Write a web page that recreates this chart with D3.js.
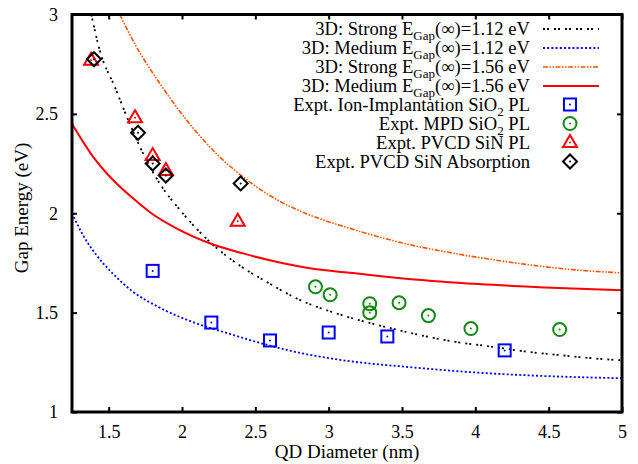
<!DOCTYPE html>
<html>
<head>
<meta charset="utf-8">
<script src="https://cdn.jsdelivr.net/npm/d3@7"></script>
<style>
  body { margin: 0; background: #fff; }
  text { font-family: "Liberation Serif", "Times New Roman", serif; }
</style>
</head>
<body>
<div id="chart"></div>
<script>
// model curves
const strong112D = [1.382, 1.439, 1.541, 1.643, 1.746, 1.848, 1.996, 2.2, 2.405, 2.575, 2.78, 3.11, 3.427, 3.654, 3.881, 4.108, 4.336, 4.563, 4.95, 5.0];
const strong112E = [3.0, 2.82, 2.637, 2.452, 2.284, 2.15, 2.008, 1.849, 1.731, 1.656, 1.572, 1.483, 1.421, 1.382, 1.351, 1.329, 1.305, 1.287, 1.262, 1.26];

const medium112D = [1.25, 1.325, 1.416, 1.53, 1.666, 1.848, 2.075, 2.303, 2.53, 2.757, 3.11, 3.564, 4.018, 4.472, 5.0];
const medium112E = [2.0, 1.89, 1.79, 1.695, 1.605, 1.525, 1.452, 1.398, 1.348, 1.305, 1.259, 1.225, 1.198, 1.181, 1.17];

const strong156D = [1.575, 1.689, 1.848, 2.03, 2.234, 2.439, 2.643, 2.87, 3.11, 3.337, 3.564, 3.79, 4.018, 4.245, 4.472, 4.7, 5.0];
const strong156E = [3.0, 2.838, 2.654, 2.47, 2.3, 2.17, 2.07, 1.991, 1.932, 1.882, 1.84, 1.807, 1.778, 1.753, 1.731, 1.714, 1.70];

const medium156D = [1.25, 1.393, 1.53, 1.666, 1.791, 1.962, 2.189, 2.416, 2.643, 2.87, 3.143, 3.564, 4.018, 4.472, 5.0];
const medium156E = [2.45, 2.285, 2.167, 2.075, 2.0, 1.924, 1.849, 1.798, 1.756, 1.723, 1.701, 1.668, 1.644, 1.627, 1.613];

// experiments
const ionD = [1.8, 2.2, 2.6, 3.0, 3.4, 4.2];
const ionE = [1.71, 1.45, 1.36, 1.40, 1.38, 1.31];

const mpdD = [2.91, 3.01, 3.28, 3.28, 3.48, 3.68, 3.97, 4.575];
const mpdE = [1.63, 1.59, 1.545, 1.50, 1.55, 1.485, 1.42, 1.415];

const sinPlD = [1.38, 1.68, 1.8, 1.89, 2.38];
const sinPlE = [2.77, 2.48, 2.29, 2.215, 1.96];

const sinAbsD = [1.40, 1.70, 1.80, 1.89, 2.40];
const sinAbsE = [2.775, 2.405, 2.25, 2.19, 2.15];

const xTicks = [1.5, 2, 2.5, 3, 3.5, 4, 4.5, 5];
const yTicks = [1, 1.5, 2, 2.5, 3];

const width = 638, height = 464;
const margin = { left: 72, right: 16, top: 14.5, bottom: 52 };

const svg = d3.select("#chart").append("svg")
    .attr("width", width)
    .attr("height", height);

const x = d3.scaleLinear().domain([1.25, 5]).range([margin.left, width - margin.right]);
const y = d3.scaleLinear().domain([1, 3]).range([height - margin.bottom, margin.top]);

svg.append("clipPath").attr("id", "clip")
  .append("rect")
    .attr("x", x(1.25)).attr("y", y(3))
    .attr("width", x(5) - x(1.25)).attr("height", y(1) - y(3));

const zip = (ds, es) => ds.map((d, i) => [d, es[i]]);

const line = d3.line()
    .x(d => x(d[0]))
    .y(d => y(d[1]))
    .curve(d3.curveMonotoneX);

const curves = [
  { label: "1.12", kind: "Strong", pts: zip(strong112D, strong112E), color: "#000", dash: "2,2,2,5", w: 1.8 },
  { label: "1.12", kind: "Medium", pts: zip(medium112D, medium112E), color: "#0000ff", dash: "2,2.2", w: 1.8 },
  { label: "1.56", kind: "Strong", pts: zip(strong156D, strong156E), color: "#ff5500", dash: "5,1.5,1.5,1.5,1.5,1.5", w: 1.6 },
  { label: "1.56", kind: "Medium", pts: zip(medium156D, medium156E), color: "#ff0000", dash: null, w: 2 }
];

const plot = svg.append("g").attr("clip-path", "url(#clip)");

plot.selectAll(".curve")
  .data(curves)
  .enter().append("path")
    .attr("class", "curve")
    .attr("d", d => line(d.pts))
    .attr("fill", "none")
    .attr("stroke", d => d.color)
    .attr("stroke-width", d => d.w)
    .attr("stroke-dasharray", d => d.dash);

// point markers
function marker(g, type, color) {
  if (type === "square") {
    g.append("rect").attr("x", -6).attr("y", -6).attr("width", 12).attr("height", 12);
  } else if (type === "circle") {
    g.append("circle").attr("r", 6.5);
  } else if (type === "triangle") {
    g.append("path").attr("d", "M0,-7.5L7,4.5L-7,4.5Z");
  } else {
    g.append("path").attr("d", "M0,-7L7,0L0,7L-7,0Z");
  }
  g.selectAll("rect,circle,path")
    .attr("fill", "none")
    .attr("stroke", color)
    .attr("stroke-width", 2);
  g.append("circle").attr("r", 1).attr("fill", color);
}

const sets = [
  { pts: zip(ionD, ionE), type: "square", color: "#0000ff", name: ["Expt. Ion-Implantation SiO", "2", " PL"] },
  { pts: zip(mpdD, mpdE), type: "circle", color: "#118811", name: ["Expt. MPD SiO", "2", " PL"] },
  { pts: zip(sinPlD, sinPlE), type: "triangle", color: "#ff0000", name: ["Expt. PVCD SiN PL"] },
  { pts: zip(sinAbsD, sinAbsE), type: "diamond", color: "#000", name: ["Expt. PVCD SiN Absorption"] }
];

sets.forEach(s => {
  s.pts.forEach(p => {
    const g = svg.append("g").attr("transform", `translate(${x(p[0])},${y(p[1])})`);
    marker(g, s.type, s.color);
  });
});

// axes with inward ticks on all four sides
const bottom = svg.append("g")
    .attr("transform", `translate(0,${y(1)})`)
    .call(d3.axisBottom(x).tickValues(xTicks).tickSize(-5).tickFormat(d => String(d)));
bottom.selectAll("text").attr("y", 26).attr("dy", 0);

const left = svg.append("g")
    .attr("transform", `translate(${x(1.25)},0)`)
    .call(d3.axisLeft(y).tickValues(yTicks).tickSize(-5).tickFormat(d => String(d)));
left.selectAll("text").attr("x", -14).attr("dy", "0.32em");

svg.append("g")
    .attr("transform", `translate(0,${y(3)})`)
    .call(d3.axisTop(x).tickValues(xTicks).tickSize(-5).tickFormat(""));
svg.append("g")
    .attr("transform", `translate(${x(5)},0)`)
    .call(d3.axisRight(y).tickValues(yTicks).tickSize(-5).tickFormat(""));

svg.selectAll(".domain").remove();
svg.selectAll(".tick line").attr("stroke", "#000").attr("stroke-width", 2);
svg.selectAll(".tick text")
    .attr("font-size", 18)
    .attr("fill", "#000");

svg.append("rect")
    .attr("x", x(1.25)).attr("y", y(3))
    .attr("width", x(5) - x(1.25)).attr("height", y(1) - y(3))
    .attr("fill", "none")
    .attr("stroke", "#000")
    .attr("stroke-width", 3);

svg.append("text")
    .attr("x", (x(1.25) + x(5)) / 2)
    .attr("y", 458)
    .attr("text-anchor", "middle")
    .attr("font-size", 19)
    .text("QD Diameter (nm)");

svg.append("text")
    .attr("transform", "translate(28,208) rotate(-90)")
    .attr("text-anchor", "middle")
    .attr("font-size", 19)
    .text("Gap Energy (eV)");

// legend
const legX = 530, legY = 28.5, legStep = 19;
const legend = svg.append("g");

curves.forEach((c, i) => {
  const cy = legY + i * legStep;
  const t = legend.append("text")
      .attr("x", legX).attr("y", cy + 6)
      .attr("text-anchor", "end")
      .attr("font-size", 18.6);
  t.append("tspan").text(`3D: ${c.kind} E`);
  t.append("tspan").attr("font-size", 13).attr("dy", 5).text("Gap");
  t.append("tspan").attr("dy", -5).text(`(∞)=${c.label} eV`);
  legend.append("line")
      .attr("x1", 543).attr("x2", 599)
      .attr("y1", cy + 0.5).attr("y2", cy + 0.5)
      .attr("stroke", c.color)
      .attr("stroke-width", c.w)
      .attr("stroke-dasharray", c.dash);
});

sets.forEach((s, j) => {
  const cy = legY + (j + 4) * legStep;
  const t = legend.append("text")
      .attr("x", legX).attr("y", cy + 6)
      .attr("text-anchor", "end")
      .attr("font-size", 18.6);
  t.append("tspan").text(s.name[0]);
  if (s.name.length > 1) {
    t.append("tspan").attr("font-size", 13).attr("dy", 5).text(s.name[1]);
    t.append("tspan").attr("dy", -5).text(s.name[2]);
  }
  const g = legend.append("g").attr("transform", `translate(570,${cy})`);
  marker(g, s.type, s.color);
});
</script>
</body>
</html>
